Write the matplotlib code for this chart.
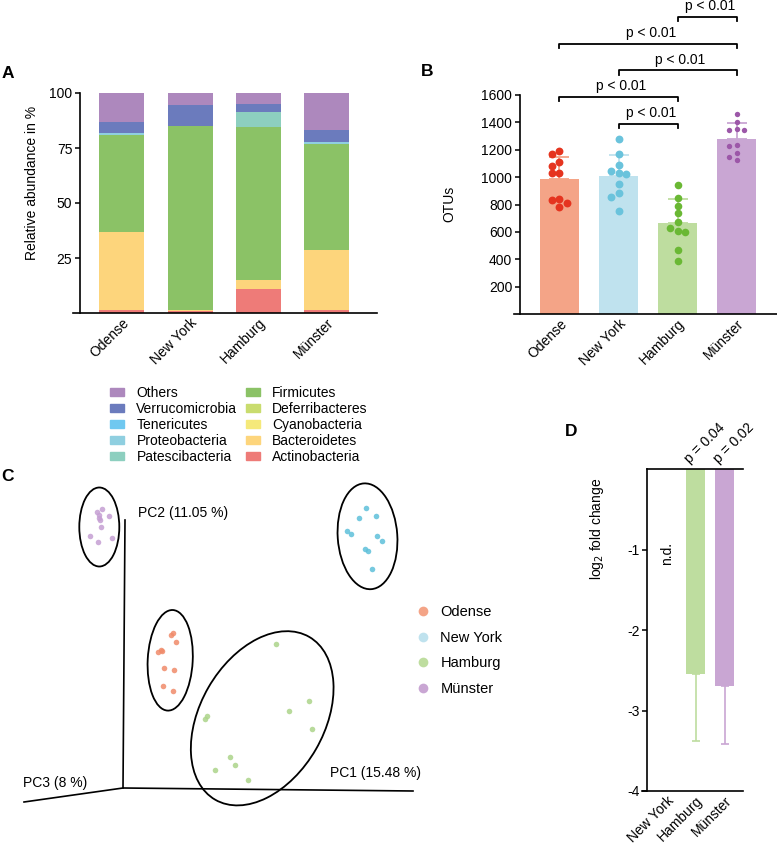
import numpy as np
import matplotlib
matplotlib.use('Agg')
import matplotlib.pyplot as plt
from matplotlib.patches import Ellipse, Patch
from matplotlib.lines import Line2D

plt.rcParams['font.family'] = ['Liberation Sans', 'DejaVu Sans']
plt.rcParams['font.size'] = 10
plt.rcParams['axes.unicode_minus'] = False

W, H = 777, 850

# ---------------- data ----------------
cities = ['Odense', 'New York', 'Hamburg', 'Münster']

# A: relative abundance (stack order bottom -> top)
phyla = ['Actinobacteria', 'Bacteroidetes', 'Cyanobacteria', 'Deferribacteres', 'Firmicutes',
         'Patescibacteria', 'Proteobacteria', 'Tenericutes', 'Verrucomicrobia', 'Others']
actino = [1.5, 0.8, 11.0, 1.2]
bacter = [35.5, 0.4, 4.0, 27.4]
cyano = [0.0, 0.0, 0.0, 0.0]
deferri = [0.0, 0.0, 0.0, 0.0]
firmic = [44.0, 83.8, 69.7, 48.2]
patesc = [0.0, 0.0, 6.8, 0.0]
proteo = [0.7, 0.0, 0.0, 0.8]
teneri = [0.3, 0.0, 0.0, 0.0]
verruco = [5.0, 9.5, 3.5, 5.6]
others = [13.0, 5.5, 5.0, 16.8]
abund = [actino, bacter, cyano, deferri, firmic, patesc, proteo, teneri, verruco, others]
phyla_colors = ['#ee7b78', '#fdd57c', '#f5e97a', '#c9dc6e', '#8bc266',
                '#8dcfbf', '#8fcfe0', '#6fc8f0', '#6b7bbd', '#ad88bd']

# B: OTUs per sample
otu_odense = [1191, 1167, 1108, 1081, 1032, 1028, 838, 833, 809, 784]
otu_newyork = [1276, 1169, 1089, 1047, 1028, 1021, 950, 882, 857, 755]
otu_hamburg = [942, 850, 791, 736, 670, 626, 606, 601, 465, 389]
otu_munster = [1461, 1405, 1352, 1342, 1342, 1235, 1230, 1174, 1147, 1127]
otus = [otu_odense, otu_newyork, otu_hamburg, otu_munster]
pairs = [(1, 2), (0, 2), (1, 3), (0, 3), (2, 3)]
pair_levels = [1390, 1585, 1780, 1975, 2170]
pair_labels = ['p < 0.01'] * 5

bar_colors = ['#f4a487', '#bfe2ee', '#bedd9f', '#c9a6d3']
dot_colors = ['#e5341f', '#6ac3dc', '#6ab834', '#9c57a8']

# C: PCoA projection (arbitrary units)
pc_x_munster = [96.7, 102.3, 99, 100, 98.7, 108.7, 101, 90, 97.7, 112.3]
pc_y_munster = [318.3, 320.7, 315, 310, 311.7, 314.3, 302.7, 293.7, 288.3, 292.3]
pc_x_odense = [173, 171, 175.7, 162, 158, 161, 164, 173.7, 162.7, 173]
pc_y_odense = [197, 195, 187.7, 179.3, 177.7, 180, 162, 160.3, 144, 139.3]
pc_x_hamburg = [276.3, 206.7, 204.7, 288.7, 309, 312, 230, 234.7, 215, 248]
pc_y_hamburg = [185.7, 114.3, 111.3, 118.7, 128.7, 100.7, 72.7, 64.7, 59.7, 49.7]
pc_x_newyork = [366, 358.7, 375.7, 346.7, 351.3, 377, 382.3, 365, 368.3, 371.7]
pc_y_newyork = [322.3, 312.3, 314.3, 299, 296.3, 294, 289, 281.3, 278.7, 261]
pc_x = [pc_x_odense, pc_x_newyork, pc_x_hamburg, pc_x_munster]
pc_y = [pc_y_odense, pc_y_newyork, pc_y_hamburg, pc_y_munster]
# ellipses: center x, center y, width, height, angle
ell_cx = [170.2, 367.5, 262.2, 99.3]
ell_cy = [169.7, 293.7, 111.7, 303.0]
ell_w = [45, 59.6, 188, 40]
ell_h = [100.7, 106, 124, 79]
ell_ang = [-3, 4, 60, 0]
pc_colors = ['#f08b6a', '#5ec0da', '#acd48a', '#c59fd3']
pc_labels = ['PC1 (15.48 %)', 'PC2 (11.05 %)', 'PC3 (8 %)']

# D: log2 fold change
fc_groups = ['New York', 'Hamburg', 'Münster']
fc_values = [np.nan, -2.55, -2.69]
fc_err = [0, 0.83, 0.72]
fc_p = ['', 'p = 0.04', 'p = 0.02']
fc_colors = ['#bfe2ee', '#bedd9f', '#c9a6d3']


def add_ax(left, top, right, bottom):
    return fig.add_axes([left / W, 1 - bottom / H, (right - left) / W, (bottom - top) / H])


def style(ax, spine_frac):
    ax.spines['top'].set_visible(False)
    ax.spines['right'].set_visible(False)
    ax.spines['left'].set_position(('axes', spine_frac))
    for s in ax.spines.values():
        s.set_linewidth(1.2)
    ax.tick_params(axis='y', length=3.5, width=1.1, pad=2, labelsize=10)
    ax.tick_params(axis='x', length=0, pad=2, labelsize=10)


def swarm(vals, step, xpx, ypx, dot):
    vals = np.asarray(vals, float)
    offs = np.zeros(len(vals))
    placed = []
    for i in np.argsort(-vals, kind='stable'):
        for k in [0, -1, 1, -2, 2]:
            if all(np.hypot((k - kk) * step * xpx, (vals[i] - v) * ypx) >= dot for kk, v in placed):
                break
        offs[i] = k * step
        placed.append((k, vals[i]))
    return offs


fig = plt.figure(figsize=(W / 100, H / 100), dpi=100)

# ---------------- A ----------------
axA = add_ax(73, 93, 377, 313)
style(axA, 7 / 304)
x = np.arange(len(cities))
bottom = np.zeros(len(cities))
for vals, col, name in zip(abund, phyla_colors, phyla):
    axA.bar(x, vals, 0.66, bottom=bottom, color=col, linewidth=0, label=name)
    bottom += np.array(vals)
axA.set_xlim(-0.713, 3.735)
axA.set_ylim(0, 100)
axA.set_yticks([25, 50, 75, 100])
axA.set_xticks(x)
axA.set_xticklabels(cities, rotation=45, ha='right', rotation_mode='anchor')
fig.text(32 / W, 1 - 183 / H, 'Relative abundance in %', rotation=90, ha='center', va='center')

handles = [Patch(color=c, label=n) for c, n in zip(phyla_colors[::-1], phyla[::-1])]
fig.legend(handles=handles, loc='upper left', bbox_to_anchor=(110 / W, 1 - 386 / H), ncol=2,
           frameon=False, fontsize=10, borderpad=0, borderaxespad=0, handlelength=1.0,
           handleheight=0.5, handletextpad=0.9, labelspacing=0.14, columnspacing=0.6)

# ---------------- B ----------------
axB = add_ax(514, 95, 777, 314)
style(axB, 6 / 263)
means = [np.mean(v) for v in otus]
sds = [np.std(v, ddof=1) for v in otus]
axB.bar(x, means, 0.66, color=bar_colors, linewidth=0, zorder=1)
sizes = [32, 32, 30, 15]
for i, v in enumerate(otus):
    axB.errorbar(x[i], means[i], yerr=[[0], [sds[i]]], fmt='none', ecolor=bar_colors[i],
                 elinewidth=1.3, capsize=7, capthick=1.3, zorder=2)
    offs = swarm(v, 0.127, 59, 219 / 1600, 7 if sizes[i] > 20 else 5.5)
    axB.scatter(x[i] + offs, v, s=sizes[i], color=dot_colors[i], linewidth=0, zorder=3)
axB.set_xlim(-0.771, 3.686)
axB.set_ylim(0, 1600)
axB.set_yticks(range(200, 1601, 200))
axB.set_xticks(x)
axB.set_xticklabels(cities, rotation=45, ha='right', rotation_mode='anchor')
for (a, b), lev, lab in zip(pairs, pair_levels, pair_labels):
    axB.plot([x[a], x[a], x[b], x[b]], [lev - 32, lev, lev, lev - 32], color='black', lw=1.3,
             clip_on=False)
    axB.text((x[a] + x[b]) / 2 + 0.05, lev + 28, lab, ha='center', va='bottom')
fig.text(449 / W, 1 - 204 / H, 'OTUs', rotation=90, ha='center', va='center')

# ---------------- C ----------------
axC = add_ax(0, 470, 460, 830)
axC.set_xlim(0, 460)
axC.set_ylim(0, 360)
axC.axis('off')
axC.plot([125, 123, 413], [310, 42, 39], color='black', lw=1.2)
axC.plot([123, 24], [42, 28], color='black', lw=1.2)
axC.text(330, 57, pc_labels[0], ha='left', va='center')
axC.text(138, 317, pc_labels[1], ha='left', va='center')
axC.text(23, 47, pc_labels[2], ha='left', va='center')
for i in range(4):
    axC.scatter(pc_x[i], pc_y[i], s=16, color=pc_colors[i], alpha=0.85, linewidth=0)
    axC.add_patch(Ellipse((ell_cx[i], ell_cy[i]), ell_w[i], ell_h[i], angle=ell_ang[i],
                          fill=False, edgecolor='black', lw=1.3))
leg_handles = [Line2D([], [], marker='o', ls='none', markersize=7, markerfacecolor=c,
                      markeredgewidth=0, label=n) for c, n in zip(bar_colors, cities)]
fig.legend(handles=leg_handles, loc='upper left', bbox_to_anchor=(417 / W, 1 - 605 / H),
           frameon=False, fontsize=10.5, borderpad=0, borderaxespad=0, handlelength=0.8,
           handletextpad=0.8, labelspacing=0.8)

# ---------------- D ----------------
axD = add_ax(641.7, 469, 743.3, 791)
style(axD, 5.6 / 101.6)
axD.spines['top'].set_visible(True)
xd = np.arange(len(fc_groups))
axD.bar(xd, np.nan_to_num(fc_values), 0.66, color=fc_colors, linewidth=0)
for i in range(1, 3):
    axD.errorbar(xd[i], fc_values[i], yerr=[[fc_err[i]], [0]], fmt='none', ecolor=fc_colors[i],
                 elinewidth=1.2, capsize=3, capthick=1.2)
    axD.annotate(fc_p[i], (xd[i], 0), xytext=(-3, 2), textcoords='offset points', rotation=45,
                 ha='left', va='bottom', rotation_mode='anchor', annotation_clip=False)
axD.text(xd[0], -1.05, 'n.d.', rotation=90, ha='center', va='center')
axD.set_xlim(-0.862, 2.64)
axD.set_ylim(-4, 0)
xl = axD.get_xlim()
axD.spines['top'].set_bounds(xl[0] + 5.6 / 101.6 * (xl[1] - xl[0]), xl[1])
axD.set_yticks([-1, -2, -3, -4])
axD.set_xticks(xd)
axD.set_xticklabels(fc_groups, rotation=45, ha='right', rotation_mode='anchor')
fig.text(597 / W, 1 - 529 / H, r'log$_2$ fold change', rotation=90, ha='center', va='center')

# panel letters
for lab, px, py in [('A', 8, 73), ('B', 427, 72), ('C', 8, 476), ('D', 571, 432)]:
    fig.text(px / W, 1 - py / H, lab, fontsize=12.5, fontweight='bold', ha='center', va='center')

fig.savefig('out.png', dpi=100)
